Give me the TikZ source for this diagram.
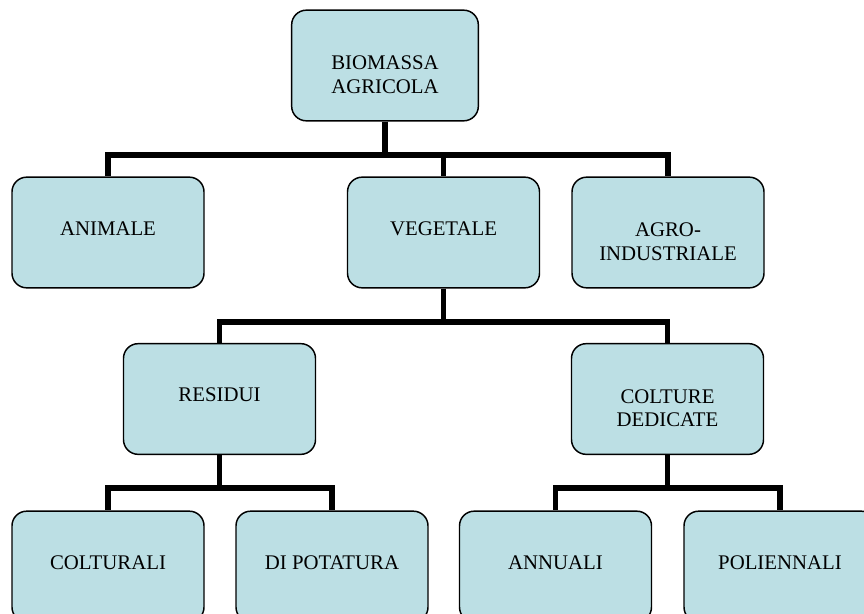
\documentclass[tikz,border=0pt]{standalone}
\usepackage{fontspec}
\setmainfont{Liberation Serif}
\usepackage{tikz}
\usetikzlibrary{positioning, calc}
\usepackage{xcolor}
\definecolor{bioFill}{HTML}{BCDFE4}
\definecolor{bioLine}{HTML}{000000}
\tikzset{
  box/.style  = {rectangle, rounded corners=11pt, draw=bioLine, line width=1.1pt,
                 fill=bioFill, minimum width=144pt, minimum height=83pt,
                 align=center, inner sep=2pt, text depth=6pt,
                 font=\fontsize{15.6}{17.5}\selectfont},
  twoline/.style = {text height=44pt, text depth=2.5pt},
  conn/.style = {draw=bioLine, line width=3.8pt, line join=miter},
}
\begin{document}
\begin{tikzpicture}[x=0.75pt, y=-0.75pt]
\useasboundingbox (0,0) rectangle (864,614);
\clip (0,0) rectangle (864,614);

% Root
\node[box, twoline, minimum width=140pt] (root) at (385,65.5) {BIOMASSA\\AGRICOLA};

% Level 2
\node[box] (animale)  at (108,232.5)   {ANIMALE};
\node[box] (vegetale) at (443.5,232.5) {VEGETALE};
\node[box, twoline] (agro) at (668,232.5) {AGRO-\\INDUSTRIALE};

% Level 3
\node[box] (residui) at (219.5,399) {RESIDUI};
\node[box, twoline] (colture) at (667.5,399) {COLTURE\\DEDICATE};

% Level 4
\node[box] (colturali) at (108,566.5) {COLTURALI};
\node[box] (potatura)  at (332,566.5) {DI POTATURA};
\node[box] (annuali)   at (555.5,566.5) {ANNUALI};
\node[box] (polienn)   at (780,566.5) {POLIENNALI};

% Bars
\coordinate (barA) at (0,155);
\coordinate (barB) at (0,322);
\coordinate (barC) at (0,488);

% Connectors
\foreach \n in {animale,vegetale,agro}
  \draw[conn] (root.south) |- (barA -| \n.north) -- (\n.north);
\foreach \n in {residui,colture}
  \draw[conn] (vegetale.south) |- (barB -| \n.north) -- (\n.north);
\foreach \n in {colturali,potatura}
  \draw[conn] (residui.south) |- (barC -| \n.north) -- (\n.north);
\foreach \n in {annuali,polienn}
  \draw[conn] (colture.south) |- (barC -| \n.north) -- (\n.north);

\end{tikzpicture}
\end{document}
